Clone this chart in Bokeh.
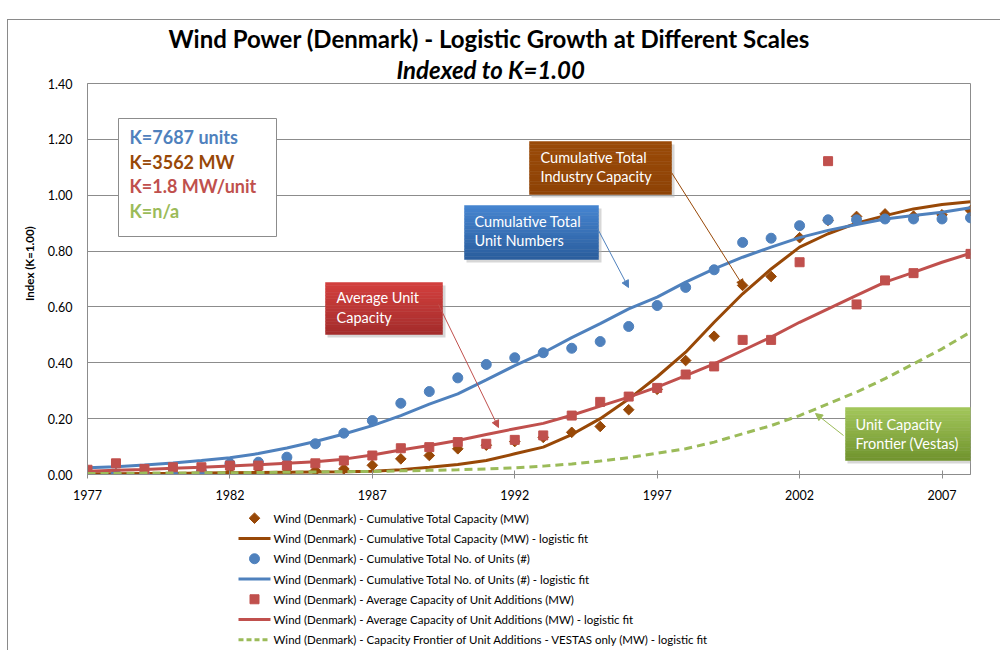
import math
from bokeh.plotting import figure
from bokeh.layouts import column
from bokeh.models import (Range1d, FixedTicker, NumeralTickFormatter, Label,
                          Arrow, NormalHead, ColumnDataSource, Title)
from bokeh.core.properties import value
from bokeh.embed import file_html
from bokeh.resources import INLINE

# ---------------- data ----------------
years = list(range(1977, 2009))

cap_pts = [0.002, 0.003, 0.003, 0.004, 0.005, 0.006, 0.006, 0.008, 0.014, 0.020,
           0.033, 0.056, 0.068, 0.092, 0.105, 0.118, 0.133, 0.151, 0.172, 0.232,
           0.305, 0.408, 0.495, 0.677, 0.709, 0.848, 0.910, 0.924, 0.933, 0.925,
           0.930, 0.945]
cap_fit = [0.003, 0.003, 0.004, 0.004, 0.005, 0.006, 0.007, 0.008, 0.009, 0.010,
           0.012, 0.017, 0.026, 0.036, 0.050, 0.074, 0.098, 0.143, 0.200, 0.270,
           0.350, 0.438, 0.545, 0.647, 0.736, 0.814, 0.862, 0.900, 0.927, 0.951,
           0.967, 0.977]
units_pts = [0.000, 0.000, 0.000, 0.000, 0.010, 0.039, 0.044, 0.062, 0.110, 0.148,
             0.193, 0.255, 0.297, 0.346, 0.394, 0.418, 0.436, 0.452, 0.476, 0.530,
             0.605, 0.670, 0.733, 0.831, 0.846, 0.891, 0.912, 0.912, 0.915, 0.915,
             0.915, 0.919]
units_fit = [0.024, 0.028, 0.034, 0.041, 0.050, 0.060, 0.075, 0.095, 0.118, 0.145,
             0.175, 0.211, 0.252, 0.289, 0.339, 0.390, 0.436, 0.490, 0.540, 0.593,
             0.635, 0.689, 0.736, 0.778, 0.814, 0.848, 0.874, 0.895, 0.915, 0.927,
             0.939, 0.955]
avg_pts = [0.017, 0.040, 0.020, 0.026, 0.026, 0.032, 0.032, 0.032, 0.040, 0.050,
           0.068, 0.094, 0.098, 0.116, 0.110, 0.124, 0.140, 0.211, 0.260, 0.279,
           0.310, 0.358, 0.387, 0.482, 0.482, 0.760, 1.122, 0.609, 0.695, 0.721,
           float("nan"), 0.790]
avg_fit = [0.012, 0.015, 0.018, 0.022, 0.026, 0.030, 0.035, 0.040, 0.046, 0.055,
           0.070, 0.088, 0.104, 0.122, 0.143, 0.164, 0.183, 0.212, 0.245, 0.277,
           0.313, 0.354, 0.396, 0.444, 0.492, 0.545, 0.593, 0.641, 0.689, 0.724,
           0.760, 0.792]
vestas_fit = [0.004, 0.004, 0.005, 0.005, 0.006, 0.006, 0.007, 0.008, 0.009, 0.010,
              0.011, 0.013, 0.015, 0.017, 0.020, 0.024, 0.030, 0.038, 0.048, 0.060,
              0.076, 0.092, 0.116, 0.146, 0.175, 0.211, 0.253, 0.295, 0.343, 0.396,
              0.450, 0.510]

x_ticks = [1977, 1982, 1987, 1992, 1997, 2002, 2007]
y_ticks = [0.0, 0.2, 0.4, 0.6, 0.8, 1.0, 1.2, 1.4]

legend_labels = [
    "Wind (Denmark) - Cumulative Total Capacity (MW)",
    "Wind (Denmark) - Cumulative Total Capacity (MW) - logistic fit",
    "Wind (Denmark) - Cumulative Total No. of Units (#)",
    "Wind (Denmark) - Cumulative Total No. of Units (#) - logistic fit",
    "Wind (Denmark) - Average Capacity of Unit Additions (MW)",
    "Wind (Denmark) - Average Capacity of Unit Additions (MW) - logistic fit",
    "Wind (Denmark) - Capacity Frontier of Unit Additions - VESTAS only (MW) - logistic fit",
]
k_labels = ["K=7687 units", "K=3562 MW", "K=1.8 MW/unit", "K=n/a"]

# ---------------- style ----------------
BLUE = "#4F81BD"
BROWN = "#984807"
RED = "#C0504D"
GREEN = "#9BBB59"
GRID = "#8c8c8c"
EDGE = "#8a8a8a"
FONT = "Lato"

W = 1000
H_MAIN = 505
H_LEG = 145
X0, X1 = 1977, 2008
Y0, Y1 = 0.0, 1.4
# pixel positions of the plot frame (canvas sits at page origin)
PL, PR, PT, PB = 87, 970, 83, 474


def px(x):
    return X0 + (x - PL) * (X1 - X0) / (PR - PL)


def py(y):
    return Y0 + (PB - y) * (Y1 - Y0) / (PB - PT)


main_css = ("linear-gradient(%s,%s) 7px 19px / 1px calc(100%% - 19px) no-repeat, "
            "linear-gradient(%s,%s) 7px 19px / calc(100%% - 7px) 1px no-repeat, white"
            % (EDGE, EDGE, EDGE, EDGE))
leg_css = "linear-gradient(%s,%s) 7px 0px / 1px 100%% no-repeat, white" % (EDGE, EDGE)

p = figure(width=W, height=H_MAIN, x_range=Range1d(X0, X1), y_range=Range1d(Y0, Y1),
           output_backend="svg", toolbar_location=None,
           min_border_left=PL, min_border_right=W - PR,
           min_border_top=PT, min_border_bottom=H_MAIN - PB,
           styles={"background": main_css})
p.background_fill_color = "white"
p.border_fill_alpha = 0
p.outline_line_color = GRID
p.outline_line_width = 1

p.xaxis.ticker = FixedTicker(ticks=x_ticks)
p.xaxis.minor_tick_line_color = None
p.xaxis.major_tick_in = 4
p.xaxis.major_tick_out = 4
p.xaxis.major_tick_line_color = GRID
p.xaxis.axis_line_color = GRID
p.xaxis.major_label_standoff = 11
p.xaxis.major_label_text_font = FONT
p.xaxis.major_label_text_font_size = "12.5px"
p.xaxis.major_label_text_color = "#000000"

p.yaxis.ticker = FixedTicker(ticks=y_ticks)
p.yaxis.formatter = NumeralTickFormatter(format="0.00")
p.yaxis.minor_tick_line_color = None
p.yaxis.major_tick_in = 0
p.yaxis.major_tick_out = 0
p.yaxis.axis_line_color = GRID
p.yaxis.major_label_standoff = 15
p.yaxis.major_label_text_font = FONT
p.yaxis.major_label_text_font_size = "12.5px"
p.yaxis.major_label_text_color = "#000000"
# leading no-break spaces lift the centred label to where the reference has it
p.yaxis.axis_label = "\u00a0" * 11 + "Index (K=1.00)"
p.yaxis.axis_label_text_font = FONT
p.yaxis.axis_label_text_font_style = "bold"
p.yaxis.axis_label_text_font_size = "11.5px"
p.yaxis.axis_label_text_color = "#000000"
p.yaxis.axis_label_standoff = 9

p.xgrid.visible = False
p.ygrid.grid_line_color = GRID
p.ygrid.grid_line_width = 1

src = ColumnDataSource(dict(year=years, cap_pts=cap_pts, cap_fit=cap_fit,
                            units_pts=units_pts, units_fit=units_fit,
                            avg_pts=avg_pts, avg_fit=avg_fit, vestas_fit=vestas_fit))

# ---------------- K box ----------------
p.quad(left=px(118), right=px(276), top=py(118), bottom=py(236),
       fill_color="white", line_color=GRID, line_width=1)
for i, (t, c) in enumerate(zip(k_labels, [BLUE, BROWN, RED, GREEN])):
    p.add_layout(Label(x=px(129), y=py(136.5 + 24.5 * i), text=t, text_color=c,
                       text_font=FONT, text_font_style="bold", text_font_size="18px",
                       text_baseline="middle", text_align="left"))


# ---------------- call-out boxes ----------------
def mix(c1, c2, t):
    a = [int(c1[i:i + 2], 16) for i in (1, 3, 5)]
    b = [int(c2[i:i + 2], 16) for i in (1, 3, 5)]
    return "#%02x%02x%02x" % tuple(int(round(a[k] + (b[k] - a[k]) * t)) for k in range(3))


def callout(l, t, r, b, ctop, cbot, lines, tx, ty0, arrow, acol):
    p.quad(left=px(l + 2), right=px(r + 3), top=py(t + 3), bottom=py(b + 3),
           fill_color="#b0b0b0", fill_alpha=0.5, line_color=None)
    n = 16
    for k in range(n):
        y_top = t + (b - t) * k / n
        y_bot = t + (b - t) * (k + 1) / n
        col = mix(ctop, cbot, k / (n - 1))
        p.quad(left=px(l), right=px(r), top=py(y_top), bottom=py(y_bot),
               fill_color=col, line_color=col, line_width=0.5)
    for j, s in enumerate(lines):
        p.add_layout(Label(x=px(tx), y=py(ty0 + 19.5 * j), text=s, text_color="white",
                           text_font=FONT, text_font_size="14.5px",
                           text_baseline="middle", text_align="left"))
    (sx, sy), (ex, ey) = arrow
    p.add_layout(Arrow(end=NormalHead(size=7, fill_color=acol, line_color=acol, line_width=1),
                       x_start=px(sx), y_start=py(sy), x_end=px(ex), y_end=py(ey),
                       line_color=acol, line_width=1))


# ---------------- series ----------------
p.scatter("year", "cap_pts", source=src, marker="square", angle=math.pi / 4,
          size=7.5, fill_color=BROWN, line_color=BROWN)
p.line("year", "cap_fit", source=src, line_color=BROWN, line_width=3)
p.scatter("year", "units_pts", source=src, marker="circle", size=10,
          fill_color=BLUE, line_color=BLUE)
p.line("year", "units_fit", source=src, line_color=BLUE, line_width=3)
p.scatter("year", "avg_pts", source=src, marker="square", size=9,
          fill_color=RED, line_color=RED)
p.line("year", "avg_fit", source=src, line_color=RED, line_width=3)
p.line("year", "vestas_fit", source=src, line_color=GREEN, line_width=3,
       line_dash="8 5")

callout(529, 141, 671, 194, "#9a4a08", "#8e4306",
        ["Cumulative Total", "Industry Capacity"], 540, 156.5,
        ((671, 172), (743, 286)), BROWN)
callout(464, 205, 598, 259, "#4584cf", "#2b5e9e",
        ["Cumulative Total", "Unit Numbers"], 474, 220.5,
        ((597, 228), (628, 287)), BLUE)
callout(325, 282, 442, 334, "#d23f3d", "#a52d2c",
        ["Average Unit", "Capacity"], 336, 297,
        ((438, 304), (498, 427)), RED)
callout(845, 407, 986, 460, "#a2c65a", "#72952f",
        ["Unit Capacity", "Frontier (Vestas)"], 855, 423.5,
        ((843, 435), (815, 413)), GREEN)

# ---------------- titles (subtitle first: it sits nearest the frame) ----------------
p.add_layout(Title(text="Indexed to K=1.00", align="left", offset=396 - PL,
                   text_font=FONT, text_font_style="bold italic", text_font_size="24px",
                   text_color="#000000", standoff=0), "above")
p.add_layout(Title(text="Wind Power (Denmark) - Logistic Growth at Different Scales",
                   align="left", offset=168 - PL,
                   text_font=FONT, text_font_style="bold", text_font_size="24px",
                   text_color="#000000", standoff=0), "above")

# ---------------- legend (separate strip below the chart) ----------------
# the column layout aligns this strip's frame with the chart frame (x 87..970),
# so its x range is expressed in page pixels over that span
LEG_TOP = H_MAIN
rows = [517.7 + 20.27 * i - LEG_TOP for i in range(7)]
leg = figure(width=W, height=H_LEG, x_range=Range1d(PL, PR), y_range=Range1d(H_LEG, 0),
             output_backend="svg", toolbar_location=None,
             x_axis_type=None, y_axis_type=None,
             min_border_left=0, min_border_right=0, min_border_top=0, min_border_bottom=0,
             styles={"background": leg_css})
leg.outline_line_color = None
leg.background_fill_alpha = 0
leg.border_fill_alpha = 0
leg.grid.visible = False

sym_x = 254
ln_x0, ln_x1 = 238, 270
leg.scatter([sym_x], [rows[0]], marker="square", angle=math.pi / 4, size=7.5,
            fill_color=BROWN, line_color=BROWN)
leg.line([ln_x0, ln_x1], [rows[1], rows[1]], line_color=BROWN, line_width=3)
leg.scatter([sym_x], [rows[2]], marker="circle", size=10, fill_color=BLUE, line_color=BLUE)
leg.line([ln_x0, ln_x1], [rows[3], rows[3]], line_color=BLUE, line_width=3)
leg.scatter([sym_x], [rows[4]], marker="square", size=9, fill_color=RED, line_color=RED)
leg.line([ln_x0, ln_x1], [rows[5], rows[5]], line_color=RED, line_width=3)
leg.line([ln_x0, ln_x1], [rows[6], rows[6]], line_color=GREEN, line_width=3,
         line_dash="5 3")
leg.text(x=[273] * 7, y=rows, text=legend_labels, text_font=value(FONT),
         text_font_size="11.5px", text_color="#000000", text_baseline="middle",
         text_align="left")

open("out.html", "w").write(file_html(column(p, leg, spacing=0), INLINE))
